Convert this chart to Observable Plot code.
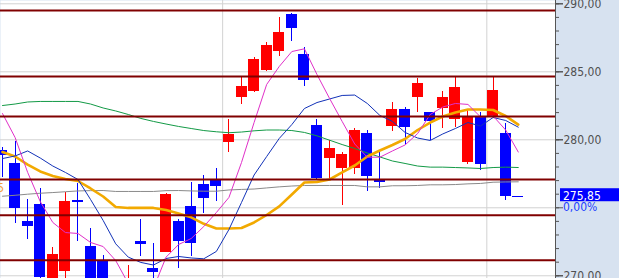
<!DOCTYPE html>
<html>
<head>
<meta charset="utf-8">
<script src="https://cdn.jsdelivr.net/npm/d3@7"></script>
<script src="https://cdn.jsdelivr.net/npm/@observablehq/plot@0.6"></script>
<style>
html, body { margin: 0; padding: 0; background: #ffffff; }
#chart svg { display: block; }
</style>
</head>
<body>
<div id="chart"></div>
<script>
// Candles (index = bar position); null = bar entirely off-screen
const openP  = [279.21, 278.28, 273.99, 275.24, 269.50, 270.34, 275.56, 272.18, 271.12, null, 269.20, 272.52, 270.56, 271.74, 273.99, 275.10, 276.71, 277.08, 279.82, 283.13, 283.57, 285.10, 286.51, 289.21, 286.27, 281.05, 278.65, 277.91, 277.91, 280.49, 277.03, 281.00, 282.23, 283.13, 282.01, 282.32, 281.47, 278.31, 281.66, 281.71, 280.49, 275.85];
const highP  = [279.46, 279.90, 275.61, 276.40, 272.10, 276.15, 276.81, 273.48, 271.49, null, 270.76, 274.14, 272.37, 276.07, 274.14, 276.88, 277.37, 277.87, 281.49, 284.60, 286.07, 287.15, 289.01, 289.31, 286.81, 281.49, 279.95, 279.09, 280.85, 280.68, 279.12, 282.74, 282.40, 284.53, 282.01, 283.55, 284.60, 282.15, 282.03, 284.65, 281.18, 275.85];
const lowP   = [277.26, 273.82, 272.67, 269.50, 269.30, 269.78, 272.54, 269.30, 269.30, null, 269.00, 271.44, 269.50, 271.70, 270.51, 271.42, 274.56, 275.46, 279.09, 282.62, 283.46, 285.02, 286.15, 287.23, 283.92, 277.10, 277.13, 275.17, 277.45, 276.22, 276.42, 280.63, 279.65, 282.03, 279.95, 280.81, 280.93, 278.16, 277.74, 281.66, 275.54, 275.85];
const closeP = [278.82, 274.97, 273.62, 269.90, 271.57, 275.46, 275.41, 269.50, 269.50, null, 269.60, 272.30, 270.26, 275.98, 272.54, 272.40, 275.71, 276.59, 280.39, 283.92, 285.90, 286.93, 287.89, 288.21, 284.36, 277.13, 279.38, 278.92, 280.68, 277.32, 276.93, 282.23, 280.93, 284.14, 281.35, 283.11, 283.85, 281.66, 278.16, 283.62, 275.85, 275.85];

// Moving averages
const maMagenta = [281.93, 280.17, 277.60, 275.46, 273.92, 273.18, 273.11, 272.45, 272.15, 271.12, 269.43, 268.77, 269.07, 271.37, 272.30, 272.74, 273.62, 274.65, 275.76, 278.33, 281.27, 284.07, 285.39, 286.49, 286.69, 284.80, 283.04, 281.35, 279.69, 278.72, 278.72, 279.18, 279.62, 280.46, 281.86, 282.41, 282.67, 282.60, 281.68, 281.75, 280.72, 279.10];
const maBlue    = [278.62, 278.81, 279.18, 278.66, 278.07, 277.60, 277.08, 275.61, 274.07, 272.35, 271.37, 270.98, 270.79, 271.27, 271.42, 271.31, 271.25, 271.79, 273.40, 275.39, 277.41, 278.77, 280.10, 281.12, 282.30, 282.74, 283.00, 283.26, 283.29, 282.67, 281.79, 281.35, 280.54, 280.13, 279.95, 280.43, 280.83, 281.27, 281.01, 281.64, 281.42, 280.93];
const maOrange  = [279.10, 278.77, 278.18, 277.67, 277.34, 277.12, 276.97, 276.42, 275.83, 275.06, 274.99, 274.99, 274.99, 274.84, 274.58, 274.30, 273.82, 273.48, 273.48, 273.51, 273.92, 274.47, 275.10, 275.98, 276.86, 276.90, 277.08, 277.60, 278.11, 278.77, 279.21, 279.62, 280.06, 280.72, 281.27, 281.71, 282.01, 282.23, 282.23, 282.19, 281.75, 281.12];
const maGreen   = [282.52, 282.63, 282.78, 282.82, 282.82, 282.82, 282.82, 282.63, 282.34, 282.12, 281.86, 281.57, 281.35, 281.16, 280.98, 280.83, 280.68, 280.59, 280.52, 280.57, 280.66, 280.72, 280.72, 280.68, 280.54, 280.29, 279.97, 279.65, 279.36, 279.03, 278.74, 278.44, 278.26, 278.07, 277.99, 277.99, 277.96, 277.93, 277.89, 277.96, 277.99, 277.96];
const maGray    = [275.85, 275.92, 276.00, 276.07, 276.12, 276.18, 276.24, 276.26, 276.27, 276.20, 276.20, 276.20, 276.20, 276.26, 276.27, 276.24, 276.22, 276.22, 276.31, 276.35, 276.38, 276.46, 276.54, 276.60, 276.64, 276.64, 276.64, 276.64, 276.64, 276.54, 276.54, 276.62, 276.62, 276.64, 276.69, 276.69, 276.71, 276.76, 276.79, 276.88, 276.90, 276.91];

// Horizontal levels, grid, ticks
const levels = [289.51, 284.65, 281.71, 277.08, 274.46, 271.15];
const gridPrices = [270, 275, 280, 285, 290];
const sessionBreaks = [17.5, 38.5];
const minorTicks = d3.range(270, 291, 1);
const labelTicks = [290, 285, 280, 270];
const lastPrice = 275.85;
const lastLabel = "275,85";
const changeLabel = "0,00%";
const edgeLabel = {i: 0, p: 276.46, t: "5"};

const candles = d3.range(openP.length)
  .filter(i => openP[i] != null)
  .map(i => ({i, o: openP[i], h: highP[i], l: lowP[i], c: closeP[i]}));
const col = d => d.c > d.o ? "#ff0000" : "#0000ff";
const series = arr => arr.map((v, i) => ({i, v}));
const half = 0.437;
const fmt = d => d.toFixed(2).replace(".", ",");
const FONT = '"Liberation Sans Narrow", "Arial Narrow", "DejaVu Sans Condensed", sans-serif';

const chart = Plot.plot({
  width: 619,
  height: 278,
  marginLeft: 0,
  marginRight: 64,
  marginTop: 0,
  marginBottom: 0,
  style: {background: "#d7e2f0", fontFamily: FONT, fontSize: "12px", overflow: "hidden"},
  x: {type: "linear", domain: [-0.159, 43.96], axis: null},
  y: {domain: [269.80, 290.243]},
  marks: [
    Plot.frame({fill: "#ffffff", stroke: null}),
    Plot.ruleY(gridPrices, {stroke: "#d2d2d2", strokeWidth: 1}),
    Plot.ruleX(sessionBreaks, {stroke: "#d2d2d2", strokeWidth: 1}),
    Plot.ruleX(candles, {x: "i", y1: "l", y2: "h", stroke: col, clip: true, shapeRendering: "crispEdges"}),
    Plot.rect(candles, {x1: d => d.i - half, x2: d => d.i + half, y1: "o", y2: "c", fill: col, clip: true, shapeRendering: "crispEdges"}),
    Plot.ruleY(candles.filter(d => Math.abs(d.o - d.c) < 0.1), {y: "c", x1: d => d.i - half, x2: d => d.i + half, stroke: col, clip: true, shapeRendering: "crispEdges"}),
    Plot.line(series(maGray), {x: "i", y: "v", stroke: "#8a8a8a", strokeWidth: 1, clip: true}),
    Plot.line(series(maGreen), {x: "i", y: "v", stroke: "#139a46", strokeWidth: 1, clip: true}),
    Plot.line(series(maOrange), {x: "i", y: "v", stroke: "#f2a900", strokeWidth: 2.6, clip: true}),
    Plot.line(series(maBlue), {x: "i", y: "v", stroke: "#1232b8", strokeWidth: 1, clip: true}),
    Plot.line(series(maMagenta), {x: "i", y: "v", stroke: "#e030c8", strokeWidth: 1, clip: true}),
    Plot.ruleY(levels, {stroke: "#800000", strokeWidth: 2, clip: true}),
    Plot.text([edgeLabel], {x: "i", y: "p", text: "t", textAnchor: "end", dx: 1.5, fill: "#f4a040", clip: true}),
    Plot.frame({anchor: "right", stroke: "#555555"}),
    Plot.axisY(minorTicks, {anchor: "right", tickSize: 3, tickFormat: () => "", color: "#555555"}),
    Plot.axisY(gridPrices, {anchor: "right", tickSize: 7, tickFormat: () => "", color: "#555555"}),
    Plot.axisY(labelTicks, {anchor: "right", tickSize: 7, tickPadding: 1, tickFormat: fmt, color: "#505050"})
  ]
});

document.getElementById("chart").appendChild(chart);

// Last-price marker in the right margin, placed with Plot's own y scale
const ys = chart.scale("y");
const yy = ys.apply(lastPrice);
const right = 619 - 64;
const svg = d3.select(chart);
svg.append("rect")
  .attr("x", right + 5).attr("y", yy - 7.5)
  .attr("width", 619 - right - 5).attr("height", 13)
  .attr("fill", "#0000ff");
svg.append("text")
  .attr("x", right + 8).attr("y", yy + 4)
  .attr("text-anchor", "start")
  .attr("fill", "#ffffff").attr("font-family", FONT).attr("font-size", 12)
  .text(lastLabel);
svg.append("text")
  .attr("x", right + 8).attr("y", yy + 15.5)
  .attr("text-anchor", "start")
  .attr("fill", "#2040ff").attr("font-family", FONT).attr("font-size", 12)
  .text(changeLabel);
</script>
</body>
</html>
